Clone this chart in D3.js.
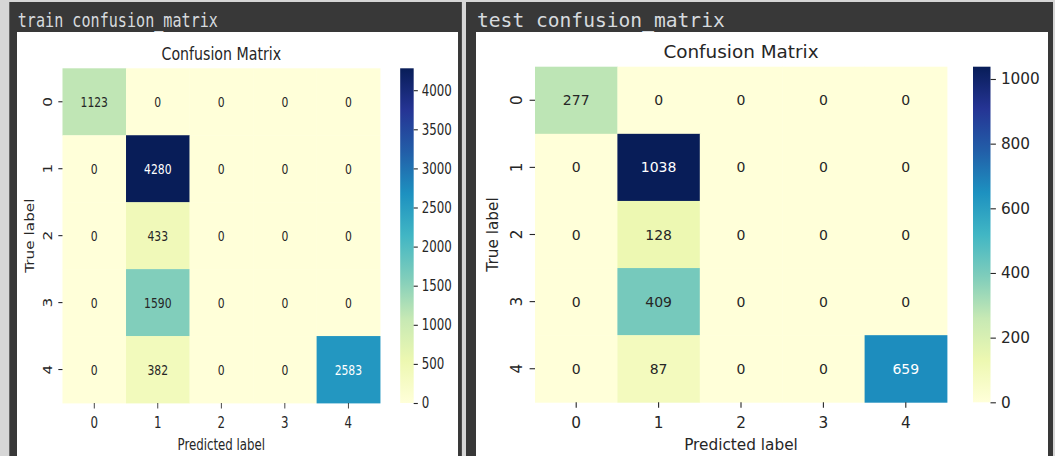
<!DOCTYPE html>
<html>
<head>
<meta charset="utf-8">
<script src="https://cdn.jsdelivr.net/npm/d3@7"></script>
<style>
  html, body { margin: 0; padding: 0; background: #d6d6d6; }
  svg { display: block; }
</style>
</head>
<body>
<svg id="chart" width="1055" height="456"></svg>
<script>
// ---------- data ----------
const classLabels = ["0", "1", "2", "3", "4"];
const trainMatrix = [
  [1123, 0, 0, 0, 0],
  [0, 4280, 0, 0, 0],
  [0, 433, 0, 0, 0],
  [0, 1590, 0, 0, 0],
  [0, 382, 0, 0, 2583]
];
const testMatrix = [
  [277, 0, 0, 0, 0],
  [0, 1038, 0, 0, 0],
  [0, 128, 0, 0, 0],
  [0, 409, 0, 0, 0],
  [0, 87, 0, 0, 659]
];
const trainColorbarTicks = [0, 500, 1000, 1500, 2000, 2500, 3000, 3500, 4000];
const testColorbarTicks = [0, 200, 400, 600, 800, 1000];
const panelHeaders = ["train confusion_matrix", "test confusion_matrix"];
const chartTitle = "Confusion Matrix";
const xAxisLabel = "Predicted label";
const yAxisLabel = "True label";
const ylgnbuColors = ["#ffffd9", "#edf8b1", "#c7e9b4", "#7fcdbb", "#41b6c4",
                      "#1d91c0", "#225ea8", "#253494", "#081d58"];

// ---------- helpers ----------
const svg = d3.select("#chart");
const defs = svg.append("defs");
const textColor = "#262626";

function relLum(c) {
  const rgb = d3.rgb(c);
  const f = v => { v /= 255; return v <= 0.03928 ? v / 12.92 : Math.pow((v + 0.055) / 1.055, 2.4); };
  return 0.2126 * f(rgb.r) + 0.7152 * f(rgb.g) + 0.0722 * f(rgb.b);
}

function drawPanel(cfg, idx) {
  const g = svg.append("g")
    .attr("transform", `translate(${cfg.x0},0) scale(${cfg.sx},1)`);

  // frame
  g.append("rect").attr("x", -10).attr("y", 2).attr("width", 587).attr("height", 460)
    .attr("fill", "#383838");
  g.append("rect").attr("x", 0).attr("y", 32).attr("width", 572).attr("height", 430)
    .attr("fill", "#ffffff");
  g.append("text").attr("x", 1).attr("y", 27)
    .attr("font-family", "'DejaVu Sans Mono', monospace").attr("font-size", 19.6)
    .attr("fill", "#d6dade").text(cfg.header);

  const values = cfg.values;
  const vmax = d3.max(values.flat());
  const color = d3.scaleLinear()
    .domain(ylgnbuColors.map((_, i) => i / (ylgnbuColors.length - 1) * vmax))
    .range(ylgnbuColors).interpolate(d3.interpolateRgb).clamp(true);

  const x = d3.scaleBand().domain(classLabels).range([59, 471]);
  const y = d3.scaleBand().domain(classLabels).range([cfg.top, cfg.bottom]);

  // cells
  const cells = [];
  values.forEach((row, i) => row.forEach((v, j) => cells.push({ r: classLabels[i], c: classLabels[j], v })));
  g.selectAll("rect.cell").data(cells).join("rect").attr("class", "cell")
    .attr("x", d => x(d.c)).attr("y", d => y(d.r))
    .attr("width", x.bandwidth() + 0.4).attr("height", y.bandwidth() + 0.4)
    .attr("fill", d => color(d.v));
  g.selectAll("text.annot").data(cells).join("text").attr("class", "annot")
    .attr("x", d => x(d.c) + x.bandwidth() / 2)
    .attr("y", d => y(d.r) + y.bandwidth() / 2)
    .attr("text-anchor", "middle").attr("dominant-baseline", "central")
    .attr("font-family", "'DejaVu Sans', sans-serif").attr("font-size", 14)
    .attr("fill", d => relLum(color(d.v)) <= 0.408 ? "#ffffff" : textColor)
    .text(d => d.v);

  // x axis
  const xAxis = g.append("g").attr("transform", `translate(0,${cfg.bottom})`)
    .call(d3.axisBottom(x).tickSize(5.4).tickPadding(5));
  xAxis.select(".domain").remove();
  xAxis.selectAll(".tick line").attr("stroke", textColor).attr("stroke-width", 1.1);
  xAxis.selectAll(".tick text").attr("font-family", "'DejaVu Sans', sans-serif")
    .attr("font-size", 15.3).attr("fill", textColor)
    .attr("dy", null).attr("y", 428 - cfg.bottom);

  // y axis
  const yAxis = g.append("g").attr("transform", `translate(59,0)`)
    .call(d3.axisLeft(y).tickSize(5.4));
  yAxis.select(".domain").remove();
  yAxis.selectAll(".tick line").attr("stroke", textColor).attr("stroke-width", 1.1);
  yAxis.selectAll(".tick text").attr("font-family", "'DejaVu Sans', sans-serif")
    .attr("font-size", 15.3).attr("fill", textColor)
    .attr("x", null).attr("dy", null).attr("y", null)
    .attr("text-anchor", "middle")
    .attr("transform", `translate(${46 - 59},0) rotate(-90)`);

  // axis labels
  g.append("text").attr("x", (59 + 471) / 2).attr("y", 450)
    .attr("text-anchor", "middle").attr("font-family", "'DejaVu Sans', sans-serif")
    .attr("font-size", 15.3).attr("fill", textColor).text(xAxisLabel);
  g.append("text")
    .attr("transform", `translate(22,${(cfg.top + cfg.bottom) / 2}) rotate(-90)`)
    .attr("text-anchor", "middle").attr("font-family", "'DejaVu Sans', sans-serif")
    .attr("font-size", 15.3).attr("fill", textColor).text(yAxisLabel);

  // title
  g.append("text").attr("x", (59 + 471) / 2).attr("y", cfg.titleY)
    .attr("text-anchor", "middle").attr("font-family", "'DejaVu Sans', sans-serif")
    .attr("font-size", 18.4).attr("fill", textColor).text(chartTitle);

  // colorbar
  const gradId = "grad" + idx;
  const grad = defs.append("linearGradient").attr("id", gradId)
    .attr("x1", 0).attr("y1", 1).attr("x2", 0).attr("y2", 0);
  ylgnbuColors.forEach((c, i) => grad.append("stop")
    .attr("offset", i / (ylgnbuColors.length - 1)).attr("stop-color", c));
  const cbX = 497, cbW = 17.5;
  g.append("rect").attr("x", cbX).attr("y", cfg.top).attr("width", cbW)
    .attr("height", cfg.bottom - cfg.top).attr("fill", `url(#${gradId})`);
  const cbScale = d3.scaleLinear().domain([0, vmax]).range([cfg.bottom, cfg.top]);
  const cbAxis = g.append("g").attr("transform", `translate(${cbX + cbW},0)`)
    .call(d3.axisRight(cbScale).tickValues(cfg.ticks).tickSize(5.4).tickPadding(5).tickFormat(d3.format("d")));
  cbAxis.select(".domain").remove();
  cbAxis.selectAll(".tick line").attr("stroke", textColor).attr("stroke-width", 1.1);
  cbAxis.selectAll(".tick text").attr("font-family", "'DejaVu Sans', sans-serif")
    .attr("font-size", 15.3).attr("fill", textColor);
}

const panels = [
  { x0: 17, sx: 0.771, top: 68.3, bottom: 403, titleY: 60, header: panelHeaders[0], values: trainMatrix, ticks: trainColorbarTicks },
  { x0: 476, sx: 1, top: 66.7, bottom: 402.3, titleY: 58, header: panelHeaders[1], values: testMatrix, ticks: testColorbarTicks }
];
panels.forEach(drawPanel);
</script>
</body>
</html>
